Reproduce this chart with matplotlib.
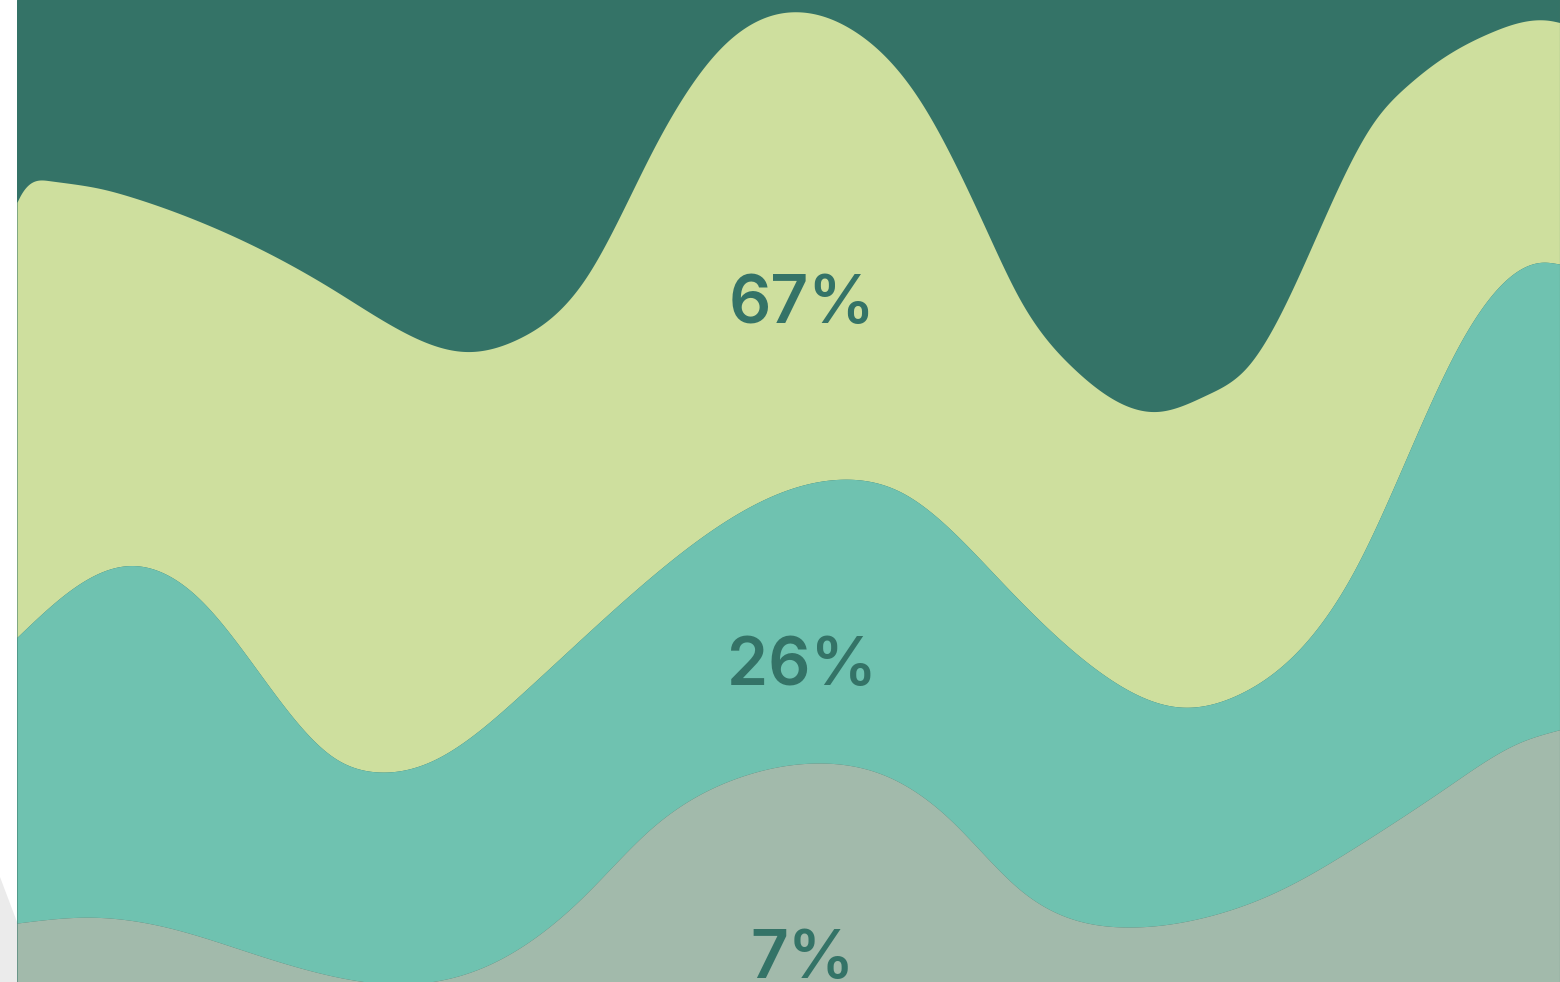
import numpy as np
import matplotlib
matplotlib.use("Agg")
import matplotlib.pyplot as plt
from matplotlib.patches import Polygon
from matplotlib.lines import Line2D

# ---- data (x: 0-100 time axis, y: 0-100 cumulative share axis) ----
top_x = [0, 2.1, 5.4, 7.5, 11.9, 16.2, 20.5, 24.8, 29.2, 32.6, 36.9, 41.2, 45.6, 50.6, 54.2,
         58.5, 62.9, 65.0, 68.4, 73.9, 77.1, 79.7, 83.6, 87.9, 90.1, 92.2, 95.5, 99.4, 100]
top_y = [79.4, 81.6, 80.8, 79.9, 77.4, 74.3, 70.5, 66.4, 64.2, 65.6, 71.8, 84.7, 95.1, 98.8, 96.9,
         89.8, 76.3, 69.5, 62.6, 58.1, 59.8, 62.6, 73.8, 87.5, 91.3, 93.9, 96.7, 97.9, 97.7]
top_start_slope = 3.6

mid_x = [0, 3.2, 7.2, 11.9, 16.2, 20.5, 23.3, 27.0, 32.6, 41.2, 49.9, 53.5, 57.4, 63.9,
         70.6, 75.4, 79.3, 86.8, 93.3, 98.9, 100]
mid_y = [35.1, 39.6, 42.4, 38.9, 30.4, 22.9, 21.4, 22.6, 29.2, 41.4, 50.1, 51.2, 49.8, 40.6,
         31.1, 28.0, 29.4, 42.3, 64.4, 73.3, 73.1]

low_x = [0, 4.5, 9.9, 15.1, 19.4, 24.5, 30.2, 36.7, 41.0, 46.7, 52.0, 56.6, 60.5, 65.0,
         71.8, 76.7, 81.9, 87.0, 92.9, 97.4, 100]
low_y = [6.0, 6.6, 5.5, 3.0, 1.0, -0.2, 1.5, 8.7, 15.5, 20.8, 22.3, 20.8, 16.5, 9.4,
         5.6, 6.5, 9.4, 14.0, 20.1, 24.4, 25.7]

labels = ["67%", "26%", "7%"]
label_x = [50.9, 50.9, 50.9]
label_y = [67.1, 30.2, 0.4]

colors = ["#CEDF9E", "#6FC2B0", "#A2BAAB"]
bg_color = "#347367"
text_color = "#347367"


def cubic_spline(x, y, xs, start_slope=None):
    x = np.asarray(x, float)
    y = np.asarray(y, float)
    n = len(x)
    h = np.diff(x)
    A = np.zeros((n, n))
    b = np.zeros(n)
    if start_slope is None:
        A[0, 0] = 1
    else:
        A[0, 0] = 2 * h[0]
        A[0, 1] = h[0]
        b[0] = 6 * ((y[1] - y[0]) / h[0] - start_slope)
    A[-1, -1] = 1
    for i in range(1, n - 1):
        A[i, i - 1] = h[i - 1]
        A[i, i] = 2 * (h[i - 1] + h[i])
        A[i, i + 1] = h[i]
        b[i] = 6 * ((y[i + 1] - y[i]) / h[i] - (y[i] - y[i - 1]) / h[i - 1])
    M = np.linalg.solve(A, b)
    idx = np.clip(np.searchsorted(x, xs) - 1, 0, n - 2)
    x0, x1 = x[idx], x[idx + 1]
    hh = h[idx]
    return (M[idx] * (x1 - xs) ** 3 / (6 * hh) + M[idx + 1] * (xs - x0) ** 3 / (6 * hh)
            + (y[idx] / hh - M[idx] * hh / 6) * (x1 - xs)
            + (y[idx + 1] / hh - M[idx + 1] * hh / 6) * (xs - x0))


plt.rcParams['font.family'] = ['Inter', 'DejaVu Sans']

fig = plt.figure(figsize=(15.6, 9.82), dpi=100)
fig.patch.set_facecolor("white")

# light grey shape at left
fig.patches.append(Polygon([(0, 1 - 877 / 982), (17 / 1560, 1 - 922 / 982), (17 / 1560, 0), (0, 0)],
                           closed=True, transform=fig.transFigure, facecolor="#EBEBEB",
                           edgecolor="none", zorder=0))

ax = fig.add_axes([17 / 1560, 0, 1543 / 1560, 1])
ax.set_facecolor(bg_color)
ax.set_xlim(0, 100)
ax.set_ylim(0, 100)
ax.axis("off")
ax.add_patch(plt.Rectangle((0, 0), 1, 1, transform=ax.transAxes, color=bg_color, zorder=0))

xs = np.linspace(0, 100, 3000)
yt = cubic_spline(top_x, top_y, xs, start_slope=top_start_slope)
ym = cubic_spline(mid_x, mid_y, xs)
yl = cubic_spline(low_x, low_y, xs)

ax.fill_between(xs, ym, yt, color=colors[0], lw=0, zorder=1)
ax.fill_between(xs, yl, ym, color=colors[1], lw=0, zorder=1)
ax.fill_between(xs, -10, yl, color=colors[2], lw=0, zorder=1)

for lab, lx, ly in zip(labels, label_x, label_y):
    ax.text(lx, ly, lab, ha="center", va="baseline", fontsize=47.5, fontweight="semibold",
            color=text_color, zorder=3)

fig.lines.append(Line2D([1559.5 / 1560, 1559.5 / 1560], [0, 1], transform=fig.transFigure,
                        color="#4E7F66", lw=0.8))

fig.savefig("out.png", dpi=100)
